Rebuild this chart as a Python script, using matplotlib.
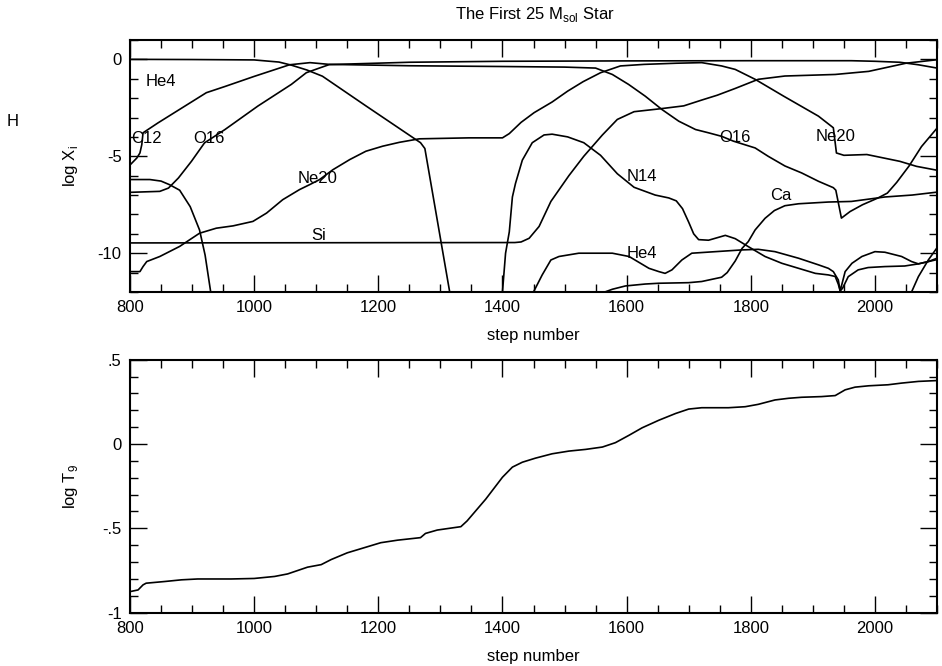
import matplotlib
matplotlib.use('Agg')
import matplotlib.pyplot as plt
from matplotlib.ticker import MultipleLocator, FixedLocator, FixedFormatter

plt.rcParams['font.family'] = ['Liberation Sans', 'DejaVu Sans']
plt.rcParams['mathtext.fontset'] = 'custom'
plt.rcParams['mathtext.rm'] = 'Liberation Sans'
plt.rcParams['axes.unicode_minus'] = False

# --- abundances (log X_i) vs step number ---
he4_x = [800, 900, 1000, 1040, 1060, 1085, 1110, 1180, 1255, 1268, 1275, 1315]
he4_y = [0.0, -0.01, -0.03, -0.14, -0.3, -0.55, -0.87, -2.4, -4.02, -4.3, -4.6, -12.0]

c12_x = [800, 811, 816, 819, 821, 845, 923, 953, 1000, 1057, 1090, 1121, 1250, 1400, 1500,
         1550, 1577, 1603, 1630, 1657, 1684, 1711, 1732, 1753, 1772, 1807, 1828, 1855, 1882,
         1909, 1933, 1937, 1946, 1960, 1980, 2005, 2020, 2035, 2055, 2075, 2100]
c12_y = [-5.45, -5.09, -4.83, -4.4, -3.79, -3.28, -1.72, -1.4, -0.88, -0.28, -0.17, -0.26,
         -0.33, -0.37, -0.4, -0.45, -0.78, -1.29, -1.9, -2.59, -3.19, -3.62, -3.79, -3.97,
         -4.22, -4.57, -5.0, -5.5, -5.86, -6.29, -6.62, -6.75, -8.19, -7.85, -7.5, -7.15,
         -6.9, -6.35, -5.5, -4.5, -3.55]

o16_x = [800, 848, 862, 878, 899, 920, 953, 1006, 1060, 1084, 1105, 1121, 1250, 1400, 1600,
         1800, 1962, 2000, 2040, 2070, 2100]
o16_y = [-6.86, -6.81, -6.64, -6.12, -5.26, -4.31, -3.62, -2.41, -1.29, -0.69, -0.45, -0.27,
         -0.15, -0.1, -0.08, -0.07, -0.07, -0.1, -0.15, -0.28, -0.45]

ne20_x = [800, 816, 821, 827, 848, 880, 912, 939, 966, 998, 1020, 1046, 1073, 1089, 1105,
          1127, 1154, 1180, 1207, 1234, 1266, 1346, 1400, 1411, 1430, 1451, 1480, 1505, 1530,
          1558, 1590, 1628, 1680, 1721, 1753, 1775, 1807, 1853, 1909, 1933, 1938, 1950, 1987,
          2040, 2067, 2100]
ne20_y = [-10.95, -10.95, -10.69, -10.43, -10.17, -9.65, -8.97, -8.71, -8.59, -8.36, -7.93,
          -7.24, -6.72, -6.47, -6.21, -5.69, -5.17, -4.74, -4.48, -4.28, -4.1, -4.05, -4.05,
          -3.83, -3.25, -2.75, -2.2, -1.64, -1.15, -0.69, -0.34, -0.26, -0.2, -0.17, -0.34,
          -0.52, -1.03, -1.9, -2.93, -3.53, -4.83, -4.95, -4.91, -5.26, -5.52, -5.72]

si_x = [800, 1420, 1430, 1443, 1459, 1478, 1507, 1531, 1561, 1585, 1612, 1654, 1692, 1721,
        1746, 1775, 1812, 1855, 1936, 1990, 2050, 2100]
si_y = [-9.47, -9.45, -9.42, -9.23, -8.62, -7.33, -6.0, -5.0, -3.9, -3.1, -2.7, -2.55, -2.4,
        -2.1, -1.85, -1.5, -1.03, -0.86, -0.78, -0.62, -0.2, -0.02]

early_x = [800, 832, 850, 864, 880, 897, 912, 921, 930]
early_y = [-6.2, -6.2, -6.28, -6.47, -6.75, -7.6, -8.8, -10.1, -12.0]

n14_x = [1400, 1405, 1411, 1416, 1421, 1432, 1448, 1467, 1480, 1505, 1531, 1558, 1585, 1612,
         1646, 1668, 1680, 1690, 1700, 1708, 1716, 1732, 1759, 1775, 1796, 1823, 1850, 1877,
         1904, 1925, 1936, 1941, 1944, 1948, 1957, 1973, 1989, 2016, 2048, 2070, 2100]
n14_y = [-12.0, -10.0, -8.9, -7.1, -6.4, -5.2, -4.3, -3.9, -3.86, -4.0, -4.3, -4.95, -5.9,
         -6.6, -7.0, -7.15, -7.3, -7.7, -8.4, -9.0, -9.3, -9.33, -9.08, -9.25, -9.66, -10.17,
         -10.52, -10.78, -11.04, -11.12, -11.2, -11.6, -11.95, -11.8, -11.21, -10.86, -10.74,
         -10.69, -10.66, -10.55, -10.33]

he4b_x = [1450, 1464, 1478, 1491, 1523, 1577, 1604, 1636, 1652, 1662, 1673, 1689, 1705, 1743,
          1786, 1812, 1839, 1877, 1909, 1925, 1933, 1941, 1944, 1952, 1963, 1979, 2000, 2016,
          2043, 2059, 2070, 2086, 2100]
he4b_y = [-12.0, -11.12, -10.35, -10.17, -10.0, -10.0, -10.17, -10.78, -10.95, -11.04, -10.86,
          -10.35, -10.0, -9.92, -9.83, -9.8, -9.92, -10.26, -10.6, -10.78, -10.95, -11.38,
          -11.95, -10.95, -10.52, -10.17, -9.92, -9.95, -10.17, -10.43, -10.55, -10.43, -10.26]

ca_x = [1565, 1577, 1598, 1630, 1652, 1700, 1721, 1753, 1762, 1775, 1786, 1796, 1807, 1823,
        1838, 1855, 1877, 1925, 1962, 2016, 2060, 2100]
ca_y = [-12.0, -11.86, -11.69, -11.59, -11.55, -11.52, -11.46, -11.24, -11.0, -10.4, -9.75,
        -9.4, -8.8, -8.2, -7.8, -7.55, -7.45, -7.36, -7.33, -7.1, -7.0, -6.85]

late_x = [2059, 2070, 2086, 2100]
late_y = [-12.0, -11.21, -10.35, -9.72]

curve_labels = ['He4', 'C12', 'O16', 'Ne20', 'Si', 'N14', 'O16', 'Ne20', 'Ca', 'He4']

# --- log T9 vs step number ---
t9_x = [800, 813, 821, 826, 856, 883, 909, 963, 1000, 1033, 1054, 1070, 1086, 1108, 1124,
        1150, 1177, 1204, 1231, 1268, 1276, 1295, 1333, 1343, 1373, 1400, 1416, 1432, 1453,
        1480, 1507, 1534, 1561, 1582, 1604, 1625, 1652, 1679, 1700, 1721, 1764, 1791, 1812,
        1839, 1861, 1882, 1914, 1936, 1952, 1968, 1990, 2021, 2043, 2070, 2100]
t9_y = [-0.875, -0.865, -0.835, -0.825, -0.815, -0.805, -0.8, -0.8, -0.797, -0.785, -0.77,
        -0.75, -0.73, -0.715, -0.685, -0.645, -0.615, -0.585, -0.57, -0.555, -0.53, -0.51,
        -0.49, -0.456, -0.327, -0.197, -0.137, -0.108, -0.084, -0.058, -0.042, -0.032,
        -0.018, 0.008, 0.052, 0.096, 0.141, 0.181, 0.207, 0.215, 0.215, 0.221, 0.235, 0.261,
        0.271, 0.277, 0.281, 0.287, 0.321, 0.337, 0.345, 0.351, 0.361, 0.371, 0.376]

top_yticks = [0, -5, -10]
top_yticklabels = ['0', '-5', '-10']
bot_yticks = [0.5, 0, -0.5, -1]
bot_yticklabels = ['.5', '0', '-.5', '-1']

fig = plt.figure(figsize=(9.42, 6.66), dpi=100)
ax1 = fig.add_axes([0.138, 0.5616, 0.8567, 0.3784])
ax2 = fig.add_axes([0.138, 0.080, 0.8567, 0.380])

for x, y in [(he4_x, he4_y), (c12_x, c12_y), (o16_x, o16_y), (ne20_x, ne20_y), (si_x, si_y),
             (early_x, early_y), (n14_x, n14_y), (he4b_x, he4b_y), (ca_x, ca_y),
             (late_x, late_y)]:
    ax1.plot(x, y, color='black', lw=1.2)

label_pos = [(850, -1.09), (826, -4.03), (927, -4.03), (1102, -6.05), (1104, -9.0),
             (1625, -5.95), (1775, -3.97), (1937, -3.92), (1849, -6.93), (1625, -9.96)]
for name, (lx, ly) in zip(curve_labels, label_pos):
    ax1.text(lx, ly, name, fontsize=12, ha='center', va='center_baseline')

ax2.plot(t9_x, t9_y, color='black', lw=1.2)

ax1.set_ylim(-12, 1)
ax2.set_ylim(-1, 0.5)
ax1.yaxis.set_major_locator(FixedLocator(top_yticks))
ax1.yaxis.set_major_formatter(FixedFormatter(top_yticklabels))
ax1.yaxis.set_minor_locator(MultipleLocator(1))
ax2.yaxis.set_major_locator(FixedLocator(bot_yticks))
ax2.yaxis.set_major_formatter(FixedFormatter(bot_yticklabels))
ax2.yaxis.set_minor_locator(MultipleLocator(0.1))

for ax in (ax1, ax2):
    ax.set_xlim(800, 2100)
    ax.xaxis.set_major_locator(MultipleLocator(200))
    ax.xaxis.set_minor_locator(MultipleLocator(50))
    ax.tick_params(which='both', direction='in', top=True, right=True, labelsize=12,
                   width=1.0, pad=6)
    ax.tick_params(which='major', length=12)
    ax.tick_params(which='minor', length=6)
    for s in ax.spines.values():
        s.set_linewidth(1.5)
    ax.set_xlabel('step number', fontsize=12, labelpad=9)
    ax.yaxis.set_label_coords(-0.062, 0.5)

ax1.set_ylabel(r'log X$_\mathregular{i}$', fontsize=12)
ax2.set_ylabel(r'log T$_\mathregular{9}$', fontsize=12)

fig.text(535 / 942, 1 - 14 / 666, r'The First 25 M$_\mathregular{sol}$ Star', fontsize=12,
         ha='center', va='center')
fig.text(12.5 / 942, 1 - 121.7 / 666, 'H', fontsize=12, ha='center', va='center')

fig.savefig('out.png', dpi=100)
